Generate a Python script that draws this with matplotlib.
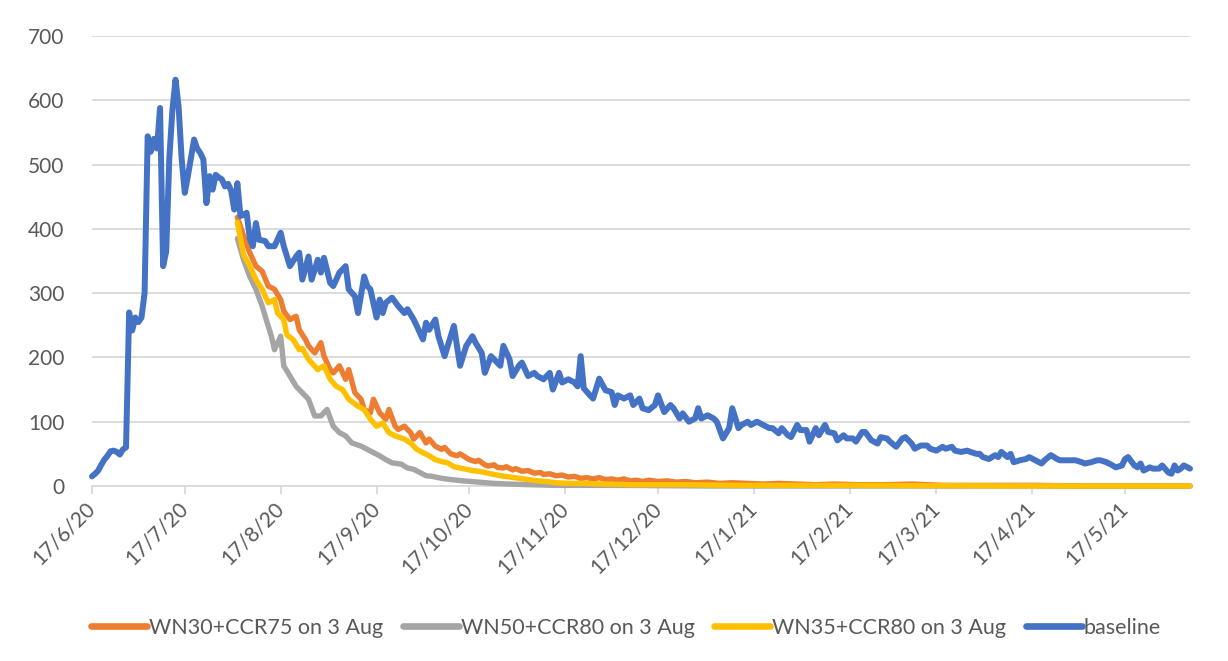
import numpy as np
import matplotlib
matplotlib.use("Agg")
import matplotlib.pyplot as plt
import matplotlib.dates as mdates
from matplotlib.ticker import FuncFormatter

# ---------------- data ----------------
START = "2020-06-17"          # day 0 of the series
END_DAY = 355                 # last plotted day offset

series_labels = ["WN30+CCR75 on 3 Aug", "WN50+CCR80 on 3 Aug",
                 "WN35+CCR80 on 3 Aug", "baseline"]

baseline_day = [0, 1, 2, 3, 4, 5, 6, 7, 8, 9, 10, 11, 12, 13, 14, 15, 16, 17, 18, 19,
                20, 21, 22, 23, 24, 25, 26, 27, 28, 29, 30, 31, 32, 33, 34, 35, 36, 37, 38, 39,
                40, 41, 42, 43, 44, 45, 46, 47, 48, 49, 50, 51, 52, 53, 54, 56, 57, 59, 61, 62,
                64, 66, 67, 68, 70, 71, 73, 74, 75, 77, 78, 80, 82, 83, 85, 86, 88, 89, 90, 92,
                93, 94, 95, 97, 99, 101, 102, 104, 105, 107, 108, 109, 111, 112, 114, 117, 118, 119, 121, 123,
                124, 126, 127, 129, 130, 132, 133, 135, 136, 138, 139, 141, 143, 144, 146, 148, 149, 151, 152, 154,
                156, 157, 158, 159, 161, 162, 164, 166, 168, 169, 170, 172, 174, 175, 177, 178, 180, 182, 183, 185,
                187, 188, 190, 191, 193, 195, 196, 197, 199, 201, 202, 204, 206, 207, 209, 210, 212, 213, 215, 217,
                219, 220, 222, 223, 225, 226, 228, 229, 231, 232, 234, 235, 237, 238, 240, 241, 243, 244, 246, 247,
                249, 250, 252, 254, 255, 257, 258, 260, 262, 263, 265, 266, 268, 270, 271, 273, 275, 276, 278, 279,
                281, 283, 284, 286, 287, 288, 290, 292, 293, 294, 296, 297, 298, 300, 302, 303, 305, 307, 308, 310,
                312, 313, 315, 316, 318, 320, 321, 323, 325, 326, 328, 330, 331, 333, 334, 335, 337, 338, 339, 340,
                342, 343, 345, 346, 348, 349, 350, 351, 352, 353, 355]
baseline_val = [15, 19, 24, 33, 41, 47, 54, 55, 53, 49, 57, 60, 270, 242, 262, 255, 262, 300, 544, 520,
                540, 525, 588, 342, 365, 510, 585, 632, 590, 508, 456, 482, 510, 539, 525, 518, 508, 440, 482, 461,
                484, 480, 477, 466, 470, 459, 430, 471, 420, 422, 425, 385, 373, 409, 383, 381, 373, 373, 394, 373,
                342, 357, 363, 321, 357, 321, 352, 332, 355, 316, 311, 332, 342, 306, 295, 269, 326, 311, 306, 262,
                290, 269, 285, 293, 280, 269, 275, 259, 249, 228, 254, 243, 259, 233, 202, 249, 218, 187, 218, 233,
                223, 207, 176, 202, 197, 187, 218, 197, 171, 187, 192, 171, 176, 171, 166, 176, 150, 176, 161, 166,
                161, 155, 202, 152, 141, 136, 167, 149, 146, 126, 141, 136, 141, 126, 136, 121, 118, 126, 141, 115,
                126, 121, 105, 113, 100, 105, 121, 105, 110, 105, 100, 74, 90, 121, 90, 95, 100, 95, 100, 95,
                90, 90, 82, 90, 79, 76, 95, 87, 87, 69, 90, 79, 95, 84, 82, 71, 79, 74, 74, 69,
                84, 84, 71, 66, 76, 74, 69, 61, 74, 76, 66, 58, 63, 63, 58, 55, 61, 58, 61, 55,
                53, 55, 53, 50, 50, 45, 42, 48, 45, 53, 45, 50, 37, 40, 42, 45, 40, 35, 40, 48,
                42, 40, 40, 40, 40, 37, 35, 37, 40, 40, 37, 32, 29, 32, 42, 45, 32, 29, 35, 24,
                29, 27, 27, 32, 21, 19, 32, 24, 27, 32, 27]

wn30_day = [47, 49, 51, 53, 55, 57, 59, 61, 62, 64, 66, 67, 69, 70, 72, 74, 75, 77, 78, 80,
            82, 83, 85, 87, 88, 90, 91, 93, 95, 96, 98, 99, 101, 103, 104, 106, 108, 109, 111, 113,
            114, 116, 118, 119, 121, 122, 124, 125, 127, 128, 130, 131, 133, 134, 136, 137, 139, 141, 143, 145,
            146, 148, 150, 152, 154, 156, 158, 160, 162, 164, 166, 168, 170, 172, 174, 176, 178, 180, 183, 186,
            189, 192, 195, 199, 203, 207, 212, 217, 222, 228, 234, 240, 248, 256, 265, 275, 290, 305, 320, 340,
            355]
wn30_val = [418, 389, 363, 342, 334, 311, 306, 290, 272, 259, 264, 243, 228, 218, 207, 223, 202, 181, 176, 187,
            166, 181, 145, 135, 119, 114, 135, 114, 104, 119, 93, 88, 93, 83, 73, 83, 67, 73, 62, 57,
            60, 50, 47, 50, 44, 41, 38, 40, 33, 31, 33, 29, 28, 30, 25, 27, 23, 24, 20, 21,
            18, 19, 16, 17, 14, 15, 12, 13, 11, 13, 10, 11, 9, 11, 8, 9, 7, 9, 7, 8,
            6, 7, 5, 6, 4, 5, 4, 3, 4, 3, 2, 3, 2, 2, 3, 1, 1, 1, 0, 0,
            0]

wn50_day = [47, 49, 51, 53, 55, 56, 58, 59, 61, 62, 64, 66, 68, 70, 72, 74, 76, 78, 80, 82,
            84, 87, 89, 91, 93, 95, 97, 100, 102, 104, 106, 108, 110, 113, 116, 120, 125, 130, 135, 142,
            150, 170, 200, 355]
wn50_val = [385, 352, 326, 306, 280, 264, 233, 212, 233, 187, 171, 155, 145, 135, 109, 109, 119, 93, 83, 78,
            67, 62, 57, 52, 47, 41, 36, 34, 28, 26, 21, 16, 15, 12, 10, 8, 6, 4, 3, 2,
            1, 1, 0, 0]

wn35_day = [47, 48, 49, 51, 53, 55, 57, 59, 60, 62, 63, 65, 67, 68, 70, 73, 75, 77, 79, 81,
            83, 86, 88, 90, 92, 94, 96, 98, 101, 103, 105, 107, 109, 111, 113, 115, 117, 119, 121, 123,
            125, 127, 130, 132, 135, 138, 141, 144, 147, 150, 155, 160, 165, 175, 190, 210, 250, 300, 355]
wn35_val = [410, 386, 360, 342, 321, 306, 285, 290, 269, 259, 235, 228, 212, 214, 197, 181, 187, 166, 155, 150,
            135, 124, 119, 104, 93, 98, 83, 78, 73, 67, 57, 52, 47, 41, 38, 36, 30, 28, 26, 24,
            23, 21, 18, 16, 14, 12, 10, 8, 7, 5, 4, 4, 3, 2, 2, 1, 1, 0, 0]

y_ticks = [0, 100, 200, 300, 400, 500, 600, 700]

# ---------------- styling ----------------
colors = ["#ED7D31", "#A5A5A5", "#FFC000", "#4472C4"]
TEXT = "#595959"
GRID = "#D9D9D9"

plt.rcParams['font.family'] = ['Lato', 'DejaVu Sans']

W, H = 1228, 661
fig = plt.figure(figsize=(W / 100, H / 100), dpi=100)
ax = fig.add_axes([92 / W, 1 - 486 / H, (1190 - 92) / W, (486 - 36) / H])

start = np.datetime64(START)


def to_dates(days):
    return start + np.array(days, dtype="timedelta64[D]")


all_days = [wn30_day, wn50_day, wn35_day, baseline_day]
all_vals = [wn30_val, wn50_val, wn35_val, baseline_val]
for i, (d, v) in enumerate(zip(all_days, all_vals)):
    ax.plot(to_dates(d), v, color=colors[i], lw=4.3 if i == 3 else 3.9,
            solid_joinstyle="round", solid_capstyle="round",
            label=series_labels[i], clip_on=False, zorder=3 + i)

ax.set_xlim(start, start + np.timedelta64(END_DAY, "D"))
ax.set_ylim(0, 700)
ax.set_yticks(y_ticks)
ax.yaxis.grid(True, color=GRID, lw=1.3)
ax.set_axisbelow(True)

for s in ["top", "right", "left"]:
    ax.spines[s].set_visible(False)
ax.spines["bottom"].set_color(GRID)
ax.spines["bottom"].set_linewidth(1.3)

ax.xaxis.set_major_locator(mdates.MonthLocator(bymonthday=17))


def fmt_date(x, pos=None):
    d = mdates.num2date(x)
    return f"{d.day}/{d.month}/{d.year % 100}"


ax.xaxis.set_major_formatter(FuncFormatter(fmt_date))
ax.tick_params(axis="y", length=0, pad=20, labelsize=15, labelcolor=TEXT)
ax.tick_params(axis="x", length=6, width=1.3, color=GRID, direction="out",
               pad=8, labelsize=15, labelcolor=TEXT)
for lab in ax.get_xticklabels():
    lab.set_rotation(45)
    lab.set_ha("right")
    lab.set_va("center")
    lab.set_rotation_mode("anchor")

leg = fig.legend(loc="center", bbox_to_anchor=(626 / W, 1 - 628 / H), ncol=4,
                 frameon=False, fontsize=15.5, handlelength=2.6, handletextpad=0.1,
                 columnspacing=0.9, labelcolor=TEXT)
for h in leg.get_lines():
    h.set_linewidth(4.8)

fig.savefig("out.png", dpi=100)
